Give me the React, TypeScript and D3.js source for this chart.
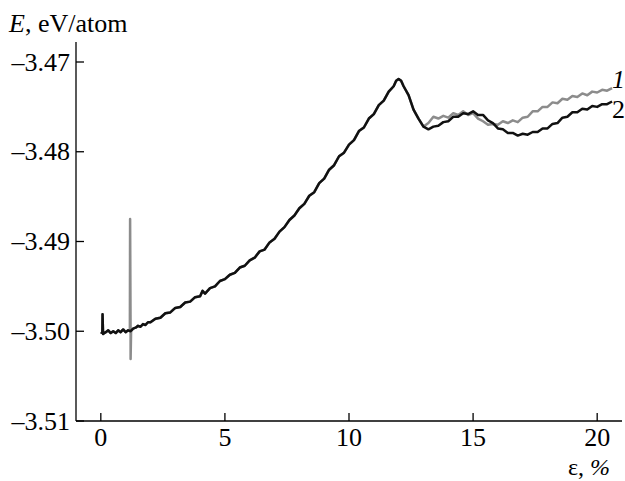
import React, { useEffect, useRef } from 'react'
import * as d3 from 'd3'

// common part of both curves (strain %, energy eV/atom)
const rise: [number, number][] = [
  [0.0, -3.5001], [0.06, -3.5002], [0.07, -3.4981], [0.09, -3.5003],
  [0.2, -3.5001], [0.3, -3.4999], [0.4, -3.5002], [0.5, -3.5], [0.6, -3.5002],
  [0.7, -3.4999], [0.8, -3.5001], [0.9, -3.4998], [1.0, -3.5001], [1.1, -3.4999],
  [1.2, -3.5], [1.3, -3.4997], [1.4, -3.4996], [1.5, -3.4994], [1.6, -3.4995],
  [1.7, -3.4992], [1.8, -3.4993], [1.9, -3.499], [2.0, -3.499], [2.2, -3.4986],
  [2.4, -3.4985], [2.6, -3.498], [2.8, -3.4979], [3.0, -3.4974], [3.2, -3.4973],
  [3.4, -3.4968], [3.6, -3.4967], [3.8, -3.4962], [4.0, -3.4961], [4.1, -3.4955],
  [4.2, -3.4958], [4.4, -3.4952], [4.6, -3.495], [4.8, -3.4944], [5.0, -3.4942],
  [5.2, -3.4937], [5.4, -3.4935], [5.6, -3.4929], [5.8, -3.4927], [6.0, -3.4921],
  [6.2, -3.4918], [6.4, -3.4911], [6.6, -3.4909], [6.8, -3.4901], [7.0, -3.4897],
  [7.2, -3.4889], [7.4, -3.4884], [7.6, -3.4876], [7.8, -3.4871], [8.0, -3.4863],
  [8.2, -3.4858], [8.4, -3.4849], [8.6, -3.4845], [8.8, -3.4835], [9.0, -3.483],
  [9.2, -3.482], [9.4, -3.4815], [9.6, -3.4805], [9.8, -3.4801], [10.0, -3.4792],
  [10.2, -3.4787], [10.4, -3.4777], [10.6, -3.4773], [10.8, -3.4763], [11.0, -3.4758],
  [11.2, -3.4748], [11.4, -3.4743], [11.6, -3.4733], [11.8, -3.4727], [11.9, -3.4721],
  [12.0, -3.4719], [12.1, -3.4721], [12.2, -3.4727], [12.4, -3.4737], [12.6, -3.4753],
  [12.8, -3.4763], [13.0, -3.4772],
]

// spike seen only on curve 1
const spike1: [number, number][] = [
  [1.17, -3.5], [1.18, -3.4875], [1.2, -3.5031], [1.22, -3.5],
]

const tail1: [number, number][] = [
  [13.2, -3.4768], [13.4, -3.4761], [13.6, -3.4763], [13.8, -3.476], [14.0, -3.4762],
  [14.2, -3.4757], [14.4, -3.4759], [14.6, -3.4755], [14.8, -3.4759], [15.0, -3.4757],
  [15.2, -3.4763], [15.4, -3.4766], [15.6, -3.477], [15.8, -3.4769], [16.0, -3.477],
  [16.2, -3.4766], [16.4, -3.4768], [16.6, -3.4765], [16.8, -3.4767], [17.0, -3.4762],
  [17.2, -3.4761], [17.4, -3.4755], [17.6, -3.4755], [17.8, -3.475], [18.0, -3.475],
  [18.2, -3.4745], [18.4, -3.4746], [18.6, -3.4741], [18.8, -3.4742], [19.0, -3.4738],
  [19.2, -3.4739], [19.4, -3.4735], [19.6, -3.4737], [19.8, -3.4733], [20.0, -3.4734],
  [20.2, -3.4731], [20.4, -3.4732], [20.6, -3.4729],
]

const tail2: [number, number][] = [
  [13.2, -3.4775], [13.4, -3.4772], [13.6, -3.4771], [13.8, -3.4767], [14.0, -3.4766],
  [14.2, -3.4761], [14.4, -3.4761], [14.6, -3.4757], [14.8, -3.4758], [15.0, -3.4755],
  [15.2, -3.4759], [15.4, -3.4759], [15.6, -3.4765], [15.8, -3.4768], [16.0, -3.4774],
  [16.2, -3.4775], [16.4, -3.4779], [16.6, -3.4779], [16.8, -3.4782], [17.0, -3.478],
  [17.2, -3.4781], [17.4, -3.4778], [17.6, -3.4778], [17.8, -3.4774], [18.0, -3.4774],
  [18.2, -3.4769], [18.4, -3.4768], [18.6, -3.4762], [18.8, -3.4761], [19.0, -3.4756],
  [19.2, -3.4756], [19.4, -3.4752], [19.6, -3.4753], [19.8, -3.4749], [20.0, -3.475],
  [20.2, -3.4747], [20.4, -3.4747], [20.6, -3.4744],
]

const xTicks = [0, 5, 10, 15, 20]
const yTicks = [-3.47, -3.48, -3.49, -3.5, -3.51]

export default function App() {
  const ref = useRef<SVGSVGElement>(null)

  useEffect(() => {
    const svg = d3.select(ref.current)
    svg.selectAll('*').remove()

    const x = d3.scaleLinear().domain([-1, 21]).range([76, 622])
    const y = d3.scaleLinear().domain([-3.51, -3.47]).range([421, 62])

    const series1 = rise.concat(spike1).sort((a, b) => a[0] - b[0]).concat(tail1)
    const series2 = rise.concat(tail2)

    const line = d3.line<[number, number]>().x(d => x(d[0])).y(d => y(d[1]))

    svg.append('path').attr('d', line(series1)).attr('fill', 'none')
      .attr('stroke', '#8c8c8c').attr('stroke-width', 2.5).attr('stroke-linejoin', 'round')
    svg.append('path').attr('d', line(series2)).attr('fill', 'none')
      .attr('stroke', '#111').attr('stroke-width', 2.5).attr('stroke-linejoin', 'round')

    // axes
    svg.append('line').attr('x1', 76).attr('x2', 76).attr('y1', 42).attr('y2', 421)
      .attr('stroke', '#000').attr('stroke-width', 1.3)
    svg.append('line').attr('x1', 76).attr('x2', 622).attr('y1', 421).attr('y2', 421)
      .attr('stroke', '#000').attr('stroke-width', 1.3)

    yTicks.forEach(t => {
      svg.append('line').attr('x1', 76).attr('x2', 84).attr('y1', y(t)).attr('y2', y(t))
        .attr('stroke', '#000').attr('stroke-width', 1.3)
      svg.append('text').attr('x', 70).attr('y', y(t) + 8.5).attr('text-anchor', 'end')
        .text('\u2013' + Math.abs(t).toFixed(2))
    })
    xTicks.forEach(t => {
      svg.append('line').attr('x1', x(t)).attr('x2', x(t)).attr('y1', 421).attr('y2', 413)
        .attr('stroke', '#000').attr('stroke-width', 1.3)
      svg.append('text').attr('x', x(t)).attr('y', 446).attr('text-anchor', 'middle').text(t)
    })

    const yl = svg.append('text').attr('x', 9).attr('y', 32)
    yl.append('tspan').attr('font-style', 'italic').text('E')
    yl.append('tspan').text(', eV/atom')

    const xl = svg.append('text').attr('x', 610).attr('y', 475).attr('text-anchor', 'end')
      .attr('font-size', 24)
    xl.append('tspan').text('\u03b5, ')
    xl.append('tspan').attr('font-style', 'italic').text('%')

    svg.append('text').attr('x', 612).attr('y', 88).attr('font-style', 'italic').text('1')
    svg.append('text').attr('x', 612).attr('y', 118).text('2')
  }, [])

  return (
    <svg ref={ref} width={625} height={481}
      style={{ position: 'absolute', left: 0, top: 0, background: '#fff',
        fontFamily: "'Liberation Serif'", fontSize: 26 }} />
  )
}
